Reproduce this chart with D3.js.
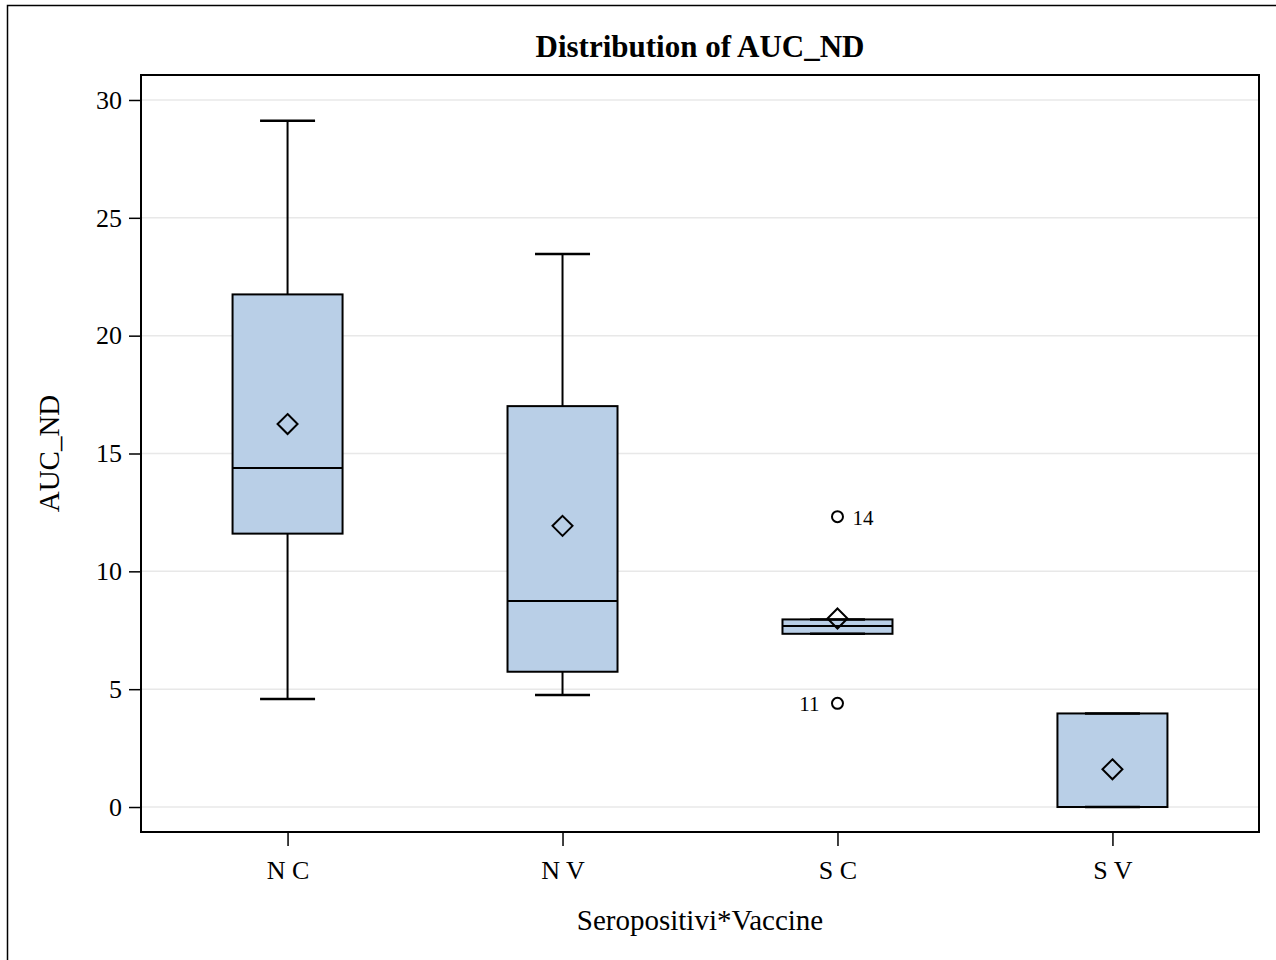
<!DOCTYPE html>
<html>
<head>
<meta charset="utf-8">
<script src="https://cdn.jsdelivr.net/npm/d3@7"></script>
<style>
    body { margin: 0; background: #fff; }
    svg { display: block; font-family: "Liberation Serif", "DejaVu Serif", serif; }
</style>
</head>
<body>
<svg id="chart" width="1276" height="960"></svg>
<script>
// data
const groups = ["N C", "N V", "S C", "S V"];
const whiskerLow = [4.58, 4.75, 7.35, 0];
const q1 = [11.6, 5.74, 7.35, 0];
const median = [14.38, 8.74, 7.68, 0];
const q3 = [21.75, 17.01, 7.96, 3.97];
const whiskerHigh = [29.12, 23.46, 7.96, 3.97];
const means = [16.25, 11.93, 8.0, 1.6];
const outlierGroup = ["S C", "S C"];
const outlierValue = [12.32, 4.4];
const outlierId = ["14", "11"];
const yTicks = [0, 5, 10, 15, 20, 25, 30];

const boxFill = "#B9CFE7";

var svg = d3.select("svg");

// outer frame (runs off the right/bottom edge)
svg.append("rect")
    .attr("x", 7.5).attr("y", 5.5)
    .attr("width", 1290).attr("height", 980)
    .attr("fill", "none").attr("stroke", "#000").attr("stroke-width", 1.5);

var plotLeft = 141, plotRight = 1259, plotTop = 75, plotBottom = 832;

var x = d3.scalePoint().domain(groups).range([plotLeft, plotRight]).padding(0.533);
var y = d3.scaleLinear().domain([-1.06, 31.06]).range([plotBottom, plotTop]);
var boxW = 110;

// grid
svg.append("g")
    .selectAll("line")
    .data(yTicks)
    .enter()
    .append("line")
    .attr("x1", plotLeft).attr("x2", plotRight)
    .attr("y1", d => y(d)).attr("y2", d => y(d))
    .attr("stroke", "#e8e8e8").attr("stroke-width", 1.5);

// axes
var yAxis = svg.append("g")
    .attr("transform", "translate(" + plotLeft + ",0)")
    .call(d3.axisLeft(y).tickValues(yTicks).tickSize(12).tickPadding(7));
var xAxis = svg.append("g")
    .attr("transform", "translate(0," + plotBottom + ")")
    .call(d3.axisBottom(x).tickSize(14).tickPadding(15));

[yAxis, xAxis].forEach(a => {
    a.select(".domain").remove();
    a.selectAll("line").attr("stroke", "#000").attr("stroke-width", 1.5);
    a.selectAll("text")
        .attr("fill", "#000")
        .style("font-family", "Liberation Serif")
        .style("font-size", "26px");
});

// boxes
var rows = groups.map((g, i) => ({
    g, lo: whiskerLow[i], q1: q1[i], med: median[i], q3: q3[i], hi: whiskerHigh[i], mean: means[i]
}));

var box = svg.append("g").selectAll("g").data(rows).enter().append("g");

box.append("line")
    .attr("x1", d => x(d.g)).attr("x2", d => x(d.g))
    .attr("y1", d => y(d.q3)).attr("y2", d => y(d.hi))
    .attr("stroke", "#000").attr("stroke-width", 2);
box.append("line")
    .attr("x1", d => x(d.g)).attr("x2", d => x(d.g))
    .attr("y1", d => y(d.q1)).attr("y2", d => y(d.lo))
    .attr("stroke", "#000").attr("stroke-width", 2);

box.append("rect")
    .attr("x", d => x(d.g) - boxW / 2)
    .attr("width", boxW)
    .attr("y", d => y(d.q3))
    .attr("height", d => y(d.q1) - y(d.q3))
    .attr("fill", boxFill)
    .attr("stroke", "#000").attr("stroke-width", 2);

box.append("line")
    .attr("x1", d => x(d.g) - boxW / 2).attr("x2", d => x(d.g) + boxW / 2)
    .attr("y1", d => y(d.med)).attr("y2", d => y(d.med))
    .attr("stroke", "#000").attr("stroke-width", 2);

// whisker caps
["lo", "hi"].forEach(k => {
    box.append("line")
        .attr("x1", d => x(d.g) - boxW / 4).attr("x2", d => x(d.g) + boxW / 4)
        .attr("y1", d => y(d[k])).attr("y2", d => y(d[k]))
        .attr("stroke", "#000").attr("stroke-width", 2.5);
});

// mean diamonds
box.append("path")
    .attr("d", d => {
        var cx = x(d.g), cy = y(d.mean), r = 10;
        return "M" + cx + "," + (cy - r) + "L" + (cx + r) + "," + cy +
            "L" + cx + "," + (cy + r) + "L" + (cx - r) + "," + cy + "Z";
    })
    .attr("fill", "none").attr("stroke", "#000").attr("stroke-width", 2);

// outliers
var outs = outlierValue.map((v, i) => ({ g: outlierGroup[i], v, id: outlierId[i] }));
var og = svg.append("g").selectAll("g").data(outs).enter().append("g");
og.append("circle")
    .attr("cx", d => x(d.g)).attr("cy", d => y(d.v))
    .attr("r", 5.5)
    .attr("fill", "none").attr("stroke", "#000").attr("stroke-width", 2);
og.append("text")
    .attr("x", (d, i) => i === 0 ? x(d.g) + 15 : x(d.g) - 18)
    .attr("y", d => y(d.v) + 8)
    .attr("text-anchor", (d, i) => i === 0 ? "start" : "end")
    .style("font-size", "21px")
    .text(d => d.id);

// plot frame
svg.append("rect")
    .attr("x", plotLeft).attr("y", plotTop)
    .attr("width", plotRight - plotLeft).attr("height", plotBottom - plotTop)
    .attr("fill", "none").attr("stroke", "#000").attr("stroke-width", 2);

// titles
svg.append("text")
    .attr("x", (plotLeft + plotRight) / 2).attr("y", 57)
    .attr("text-anchor", "middle")
    .style("font-weight", "bold")
    .style("font-size", "31px")
    .text("Distribution of AUC_ND");

svg.append("text")
    .attr("x", (plotLeft + plotRight) / 2).attr("y", 930)
    .attr("text-anchor", "middle")
    .style("font-size", "29px")
    .text("Seropositivi*Vaccine");

svg.append("text")
    .attr("transform", "translate(59," + (plotTop + plotBottom) / 2 + ")rotate(-90)")
    .attr("text-anchor", "middle")
    .style("font-size", "29px")
    .text("AUC_ND");
</script>
</body>
</html>
